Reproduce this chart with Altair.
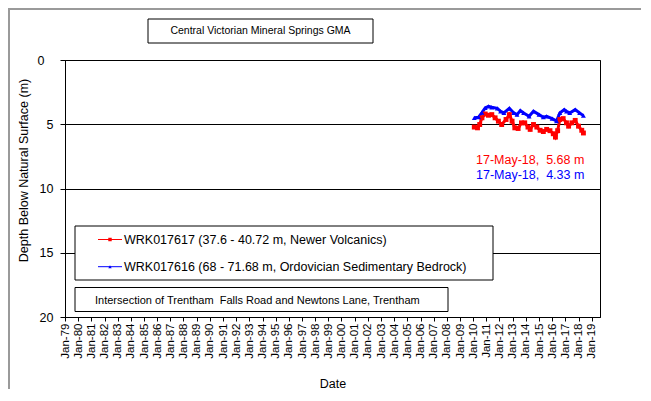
import altair as alt
import pandas as pd

# ---- data ----
red_dates = ["2010-02-01", "2010-05-01", "2010-07-01", "2010-09-01", "2010-12-01",
             "2011-03-01", "2011-06-01", "2011-09-01", "2011-12-01", "2012-03-01",
             "2012-07-01", "2012-10-01", "2012-12-15", "2013-03-01", "2013-06-01",
             "2013-09-01", "2013-12-01", "2014-03-01", "2014-05-01", "2014-08-01",
             "2014-11-01", "2015-02-01", "2015-05-01", "2015-08-01", "2015-11-01",
             "2016-02-01", "2016-04-01", "2016-06-01", "2016-08-01", "2016-11-01",
             "2017-02-01", "2017-04-01", "2017-07-01", "2017-10-01", "2018-01-01",
             "2018-04-01", "2018-05-17"]
red_depth = [5.22, 5.28, 5.02, 4.50, 4.20,
             4.30, 4.25, 4.50, 4.76, 5.02,
             4.63, 4.25, 4.76, 5.28, 5.33,
             4.89, 4.89, 5.22, 5.40, 5.02,
             5.22, 5.47, 5.57, 5.40, 5.50,
             5.74, 6.00, 5.50, 4.63, 4.56,
             4.89, 5.15, 4.89, 4.70, 5.15,
             5.47, 5.68]

blue_dates = ["2010-02-01", "2010-06-01", "2010-09-01", "2010-12-01", "2011-03-01",
              "2011-06-01", "2011-11-01", "2012-02-01", "2012-05-01", "2012-10-01",
              "2013-02-01", "2013-05-01", "2013-08-01", "2013-11-01", "2014-04-01",
              "2014-08-01", "2015-01-01", "2015-05-01", "2015-08-01", "2016-01-01",
              "2016-05-01", "2016-08-01", "2016-12-01", "2017-02-01", "2017-05-01",
              "2017-10-01", "2018-02-01", "2018-05-17"]
blue_depth = [4.50, 4.45, 4.10, 3.73, 3.60,
              3.68, 3.76, 3.99, 4.12, 3.76,
              4.12, 4.25, 3.94, 4.12, 4.38,
              3.99, 4.25, 4.45, 4.38, 4.56,
              4.76, 4.12, 3.86, 3.99, 4.12,
              3.86, 4.12, 4.33]

year_ticks = list(range(1979, 2020))
depth_ticks = [0, 5, 10, 15, 20]

red_name = "WRK017617 (37.6 - 40.72 m, Newer Volcanics)"
blue_name = "WRK017616 (68 - 71.68 m, Ordovician Sedimentary Bedrock)"
title_text = "Central Victorian Mineral Springs GMA"
site_text = "Intersection of Trentham\u00a0 Falls Road and Newtons Lane, Trentham"
last_label = "17-May-18"

RED = "#ff0000"
BLUE = "#0000ff"
FONT = "Liberation Sans"

df = pd.concat([
    pd.DataFrame({"date": red_dates, "depth": red_depth, "series": red_name}),
    pd.DataFrame({"date": blue_dates, "depth": blue_depth, "series": blue_name}),
])

x_enc = alt.X(
    "date:T",
    scale=alt.Scale(
        type="utc",
        domain=[alt.DateTime(year=1979, month=1, date=1, utc=True),
                alt.DateTime(year=2019, month=8, date=20, utc=True)],
    ),
    axis=alt.Axis(
        values=[alt.DateTime(year=y, month=1, date=1, utc=True) for y in year_ticks],
        labelExpr="utcFormat(datum.value, '%b-%y')",
        labelAngle=-90,
        labelFontSize=11.5,
        labelPadding=2,
        labelOverlap=False,
        tickSize=4,
        grid=False,
        title="Date",
        titleFontSize=12.5,
        titleY=60,
        titleBaseline="top",
    ),
)
y_enc = alt.Y(
    "depth:Q",
    scale=alt.Scale(domain=[0, 20], reverse=True),
    axis=alt.Axis(
        values=depth_ticks,
        grid=True,
        gridColor="black",
        gridOpacity=1,
        labelFontSize=12.5,
        labelPadding={"condition": {"test": "datum.value == 0", "value": 16}, "value": 7},
        tickSize=5,
        title="Depth Below Natural Surface (m)",
        titleFontSize=12.5,
        titleX=-35,
        titleY=110,
        titleAngle=-90,
        titleBaseline="bottom",
    ),
)
color_enc = alt.Color("series:N", scale=alt.Scale(domain=[red_name, blue_name], range=[RED, BLUE]), legend=None)
shape_enc = alt.Shape("series:N", scale=alt.Scale(domain=[red_name, blue_name], range=["square", "triangle-up"]), legend=None)

base = alt.Chart(df)
lines = base.mark_line(strokeWidth=3).encode(x=x_enc, y=y_enc, color=color_enc, detail="series:N")
points = base.mark_point(filled=True, size=24, opacity=1).encode(x=x_enc, y=y_enc, color=color_enc, shape=shape_enc)

one = pd.DataFrame({"a": [0]})
dummy = alt.Chart(one)

# outer frame (top & left edges)
frame_top = dummy.mark_rule(color="#9a9a9a", strokeWidth=2).encode(
    x=alt.value(-57), x2=alt.value(580), y=alt.value(-51))
frame_left = dummy.mark_rule(color="#9a9a9a", strokeWidth=2).encode(
    x=alt.value(-56), y=alt.value(-52), y2=alt.value(330))

# title box
title_box = dummy.mark_rect(fill="white", stroke="black", strokeWidth=1).encode(
    x=alt.value(83), x2=alt.value(308), y=alt.value(-41), y2=alt.value(-17))
title_txt = dummy.mark_text(font=FONT, fontSize=10.5, color="black", align="center", baseline="middle",
                            text=title_text).encode(x=alt.value(195.5), y=alt.value(-29))

# last-value annotations
ann_red = dummy.mark_text(font=FONT, fontSize=12.5, color=RED, align="left", baseline="middle",
                          text=f"{last_label},\u00a0 {red_depth[-1]:.2f} m").encode(x=alt.value(411), y=alt.value(100))
ann_blue = dummy.mark_text(font=FONT, fontSize=12.5, color=BLUE, align="left", baseline="middle",
                           text=f"{last_label},\u00a0 {blue_depth[-1]:.2f} m").encode(x=alt.value(411), y=alt.value(114.5))

# legend box
leg_box = dummy.mark_rect(fill="white", stroke="black", strokeWidth=1).encode(
    x=alt.value(10), x2=alt.value(428), y=alt.value(166), y2=alt.value(220))
leg_red_line = dummy.mark_rule(color=RED, strokeWidth=1).encode(
    x=alt.value(33), x2=alt.value(57), y=alt.value(179.5))
leg_red_pt = dummy.mark_point(shape="square", filled=True, size=12, color=RED, opacity=1).encode(
    x=alt.value(45), y=alt.value(179.5))
leg_red_txt = dummy.mark_text(font=FONT, fontSize=12.5, color="black", align="left", baseline="middle",
                              text=red_name).encode(x=alt.value(59), y=alt.value(179.5))
leg_blue_line = dummy.mark_rule(color=BLUE, strokeWidth=1).encode(
    x=alt.value(33), x2=alt.value(57), y=alt.value(206.7))
leg_blue_pt = dummy.mark_point(shape="triangle-up", filled=True, size=12, color=BLUE, opacity=1).encode(
    x=alt.value(45), y=alt.value(206.7))
leg_blue_txt = dummy.mark_text(font=FONT, fontSize=12.5, color="black", align="left", baseline="middle",
                               text=blue_name).encode(x=alt.value(59), y=alt.value(206.7))

# site box
site_box = dummy.mark_rect(fill="white", stroke="black", strokeWidth=1).encode(
    x=alt.value(10), x2=alt.value(383), y=alt.value(227.5), y2=alt.value(251.5))
site_txt = dummy.mark_text(font=FONT, fontSize=11, color="black", align="left", baseline="middle",
                           text=site_text).encode(x=alt.value(30), y=alt.value(240.5))

chart = alt.layer(
    lines, points,
    frame_top, frame_left,
    title_box, title_txt,
    ann_red, ann_blue,
    leg_box, leg_red_line, leg_red_pt, leg_red_txt, leg_blue_line, leg_blue_pt, leg_blue_txt,
    site_box, site_txt,
).properties(
    width=535,
    height=257,
    autosize=alt.AutoSizeParams(type="none"),
    padding={"left": 57, "top": 52, "right": 41, "bottom": 72},
    background="white",
).configure_axis(
    labelFont=FONT,
    titleFont=FONT,
    labelColor="black",
    titleColor="black",
    titleFontWeight="normal",
    domainColor="black",
    tickColor="black",
    domainWidth=1,
    tickWidth=1,
    gridWidth=1,
).configure_view(
    stroke="black",
    strokeWidth=1,
)

chart.save("out.html", embed_options={"renderer": "svg", "actions": False})
